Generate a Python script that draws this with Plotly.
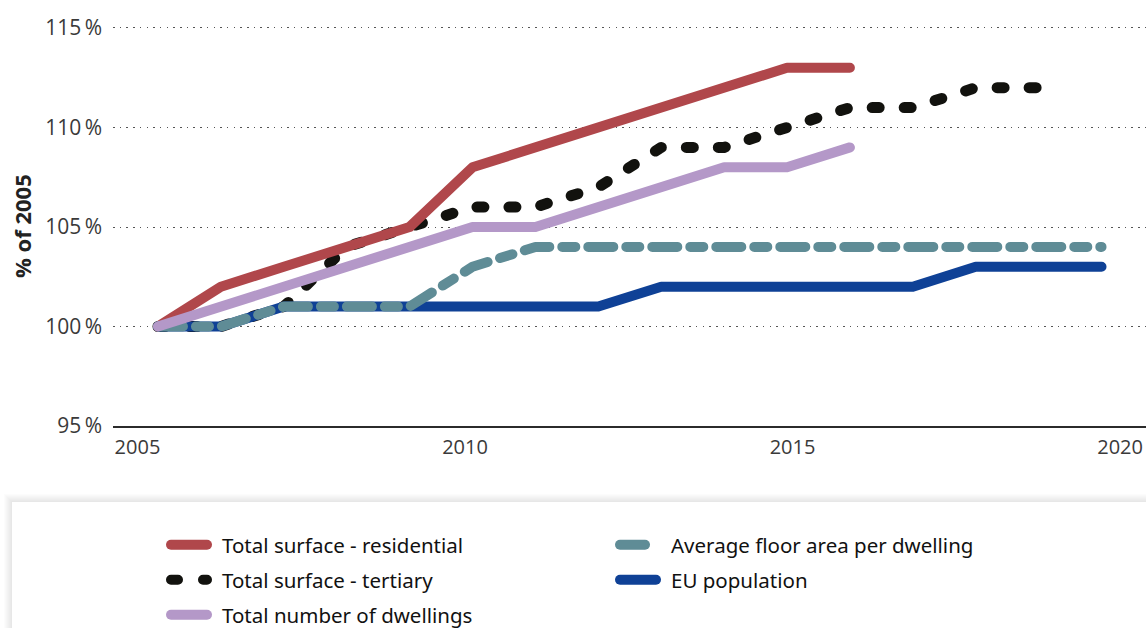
import plotly.graph_objects as go

# ---- data ----
years = list(range(2005, 2021))
residential = [100, 102, 103, 104, 105, 108, 109, 110, 111, 112, 113, 113]
tertiary = [100, 100, 101, 104, 105, 106, 106, 107, 109, 109, 110, 111, 111, 112, 112]
dwellings = [100, 101, 102, 103, 104, 105, 105, 106, 107, 108, 108, 109]
floor_area = [100, 100, 101, 101, 101, 103, 104, 104, 104, 104, 104, 104, 104, 104, 104, 104]
population = [100, 100, 101, 101, 101, 101, 101, 101, 102, 102, 102, 102, 102, 103, 103, 103]

y_ticks = [95, 100, 105, 110, 115]
x_tick_labels = ["2005", "2010", "2015", "2020"]

# presentation: where the year labels sit along the axis (as in the reference)
x_label_start = 2004.674
x_label_step = 5.207

FONT = "Open Sans"
W, H = 1146, 628
ml, mr, mt, mb = 113, 0, 26, 202
pw, ph = W - ml - mr, H - mt - mb

# legend slots: (legend id, left px, top px)
slots = {
    "legend": (166, 525),
    "legend2": (166, 560),
    "legend3": (166, 595),
    "legend4": (615, 525),
    "legend5": (615, 560),
}

fig = go.Figure()

def add(name, yv, color, dash, legend, width=10):
    fig.add_trace(go.Scatter(
        x=years[:len(yv)], y=yv, name=name, mode="lines",
        line=dict(color=color, width=width, dash=dash),
        legend=legend, hoverinfo="x+y+name",
    ))

# drawing order (bottom -> top)
add("Total surface - tertiary", tertiary, "#12120e", "7px,25px", "legend2", 11)
add("Total surface - residential", residential, "#b0474b", "solid", "legend")
add("EU population", population, "#0f4196", "solid", "legend5")
add("Average floor area per dwelling", floor_area, "#5f8c96", "25px,13px,13px,13px", "legend4")
add("Total number of dwellings", dwellings, "#b498c8", "solid", "legend3")

def px_x(p):
    return (p - ml) / pw

def px_y(q):
    return (H - mb - q) / ph

# legend box with soft shadow
shapes = []
for i in range(8):
    g = 8 - i
    shapes.append(dict(type="rect", xref="paper", yref="paper", layer="below",
                       x0=px_x(12 - g), x1=px_x(1160), y0=px_y(640), y1=px_y(502 - g),
                       line=dict(width=0), fillcolor="rgba(0,0,0,0.012)"))
shapes.append(dict(type="rect", xref="paper", yref="paper", layer="below",
                   x0=px_x(12), x1=px_x(1160), y0=px_y(640), y1=px_y(502),
                   line=dict(width=0), fillcolor="white"))

legend_common = dict(
    orientation="v", bgcolor="rgba(0,0,0,0)", borderwidth=0,
    font=dict(family="Noto Sans", size=20.5, color="#111"),
    xref="container", yref="container", xanchor="left", yanchor="top",
    itemwidth=46, itemclick=False, itemdoubleclick=False,
)
legends = {k: dict(legend_common, x=v[0] / W, y=1 - v[1] / H) for k, v in slots.items()}

fig.update_layout(
    width=W, height=H,
    margin=dict(l=ml, r=mr, t=mt, b=mb, autoexpand=False),
    paper_bgcolor="white", plot_bgcolor="white",
    font=dict(family=FONT, color="#333"),
    showlegend=True,
    shapes=shapes,
    annotations=[dict(
        text="<b>% of 2005</b>", textangle=-90, xref="paper", yref="paper",
        x=px_x(22), y=0.5, xanchor="center", yanchor="middle",
        showarrow=False, font=dict(family=FONT, size=22, color="#222"),
    )],
    xaxis=dict(
        range=[2004.285, 2020.707],
        tickvals=[x_label_start + i * x_label_step for i in range(len(x_tick_labels))],
        ticktext=x_tick_labels,
        showgrid=False, zeroline=False,
        showline=True, linecolor="#2b2b2b", linewidth=2,
        ticks="", tickfont=dict(family=FONT, size=20, color="#3a3a3a"),
        ticklabelstandoff=2, fixedrange=True,
    ),
    yaxis=dict(
        range=[95, 115.1], tickvals=y_ticks,
        ticktext=[f"{v}\u2009%" for v in y_ticks],
        showgrid=True, gridcolor="#555", gridwidth=1, griddash="1.5px,5.2px",
        zeroline=False, showline=False, ticks="",
        tickfont=dict(family=FONT, size=21, color="#3a3a3a"),
        ticklabelstandoff=10, fixedrange=True,
    ),
    **legends,
)

post = """
document.body.style.margin = '0';
document.body.style.padding = '0';
var gd = document.getElementById('{plot_id}');
var legendDash = {
  'Total surface - tertiary': '3px,29px',
  'Average floor area per dwelling': '11px,13px'
};
function itemName(p){
  var g = p.closest('g.traces');
  if (!g) return '';
  var t = g.querySelector('text.legendtext');
  return t ? t.textContent.replace(/\\u00a0/g, ' ') : '';
}
function fix(){
  gd.querySelectorAll('.scatterlayer .js-line').forEach(function(p){
    p.style.strokeLinecap='round'; p.style.strokeLinejoin='round';
  });
  gd.querySelectorAll('g.legendlines path').forEach(function(p){
    p.style.strokeLinecap='round'; p.style.strokeLinejoin='round';
    if (p.getAttribute('d') !== 'M5,0h36') p.setAttribute('d', 'M5,0h36');
    var o = legendDash[itemName(p)];
    if (o) { p.style.setProperty('stroke-dasharray', o, 'important'); }
  });
}
fix();
gd.on('plotly_afterplot', fix);
[30, 100, 250, 500, 1000, 2000, 3500].forEach(function(t){ setTimeout(fix, t); });
var mo = new MutationObserver(function(){ fix(); });
mo.observe(gd, {childList: true, subtree: true});
"""

fig.write_html("out.html", post_script=post, config={"displayModeBar": False})
